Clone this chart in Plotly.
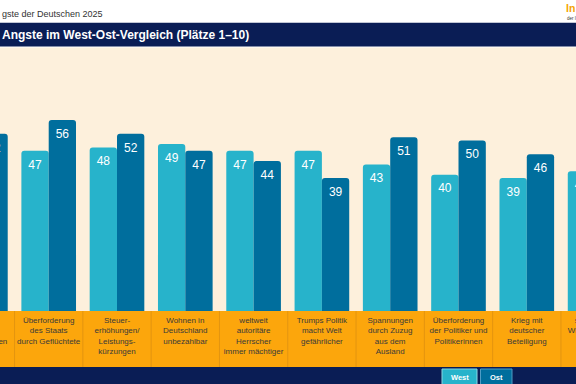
import plotly.graph_objects as go

W, H = 576, 384

# ---------------- data ----------------
ranks = [1, 2, 3, 4, 5, 6, 7, 8, 9, 10]
labels = [
    "steigende<br>Lebens-<br>haltungskosten",
    "Überforderung<br>des Staats<br>durch Geflüchtete",
    "Steuer-<br>erhöhungen/<br>Leistungs-<br>kürzungen",
    "Wohnen in<br>Deutschland<br>unbezahlbar",
    "weltweit<br>autoritäre<br>Herrscher<br>immer mächtiger",
    "Trumps Politik<br>macht Welt<br>gefährlicher",
    "Spannungen<br>durch Zuzug<br>aus dem<br>Ausland",
    "Überforderung<br>der Politiker und<br>Politikerinnen",
    "Krieg mit<br>deutscher<br>Beteiligung",
    "schlechtere<br>Wirtschaftslage",
]
west = [52, 47, 48, 49, 47, 47, 43, 40, 39, 41]
ost = [52, 56, 52, 47, 44, 39, 51, 50, 46, 45]

# ---------------- style ----------------
C_WEST = "#27B3CB"
C_OST = "#006E9D"
C_CREAM = "#FDF0DC"
C_ORANGE = "#FCA60C"
C_SEP = "#E39410"
C_NAVY = "#0A1D55"
FONT = "Liberation Sans, Arial, sans-serif"
BAR_W = 0.4


def py(px):
    return 1 - px / H


def pxx(px):
    return px / W


fig = go.Figure()

fig.add_trace(go.Bar(x=ranks, y=west, width=BAR_W, offset=-BAR_W,
                     marker=dict(color=C_WEST, line=dict(width=0)),
                     name="West", hoverinfo="skip"))
fig.add_trace(go.Bar(x=ranks, y=ost, width=BAR_W, offset=0,
                     marker=dict(color=C_OST, line=dict(width=0)),
                     name="Ost", hoverinfo="skip"))

# value labels inside the bar tops
for vals, sign in ((west, -1), (ost, 1)):
    fig.add_trace(go.Scatter(
        x=[r + sign * BAR_W / 2 for r in ranks], y=vals,
        mode="markers+text", text=[str(v) for v in vals],
        textposition="bottom center",
        textfont=dict(family=FONT, size=12, color="white"),
        marker=dict(size=12.5, opacity=0),
        hoverinfo="skip", showlegend=False, cliponaxis=True))

# category labels in the orange band (clipped at the window edges)
fig.add_trace(go.Scatter(
    x=ranks, y=[1] * len(ranks), yaxis="y2",
    mode="text", text=labels, textposition="bottom center",
    textfont=dict(family=FONT, size=8, color="#3a3a3a"),
    hoverinfo="skip", showlegend=False, cliponaxis=True))

shapes = [
    dict(type="rect", xref="paper", yref="paper", x0=0, x1=1, y0=py(311), y1=py(47.5),
         fillcolor=C_CREAM, line=dict(width=0), layer="below"),
    dict(type="rect", xref="paper", yref="paper", x0=0, x1=1, y0=py(46.5), y1=py(22.7),
         fillcolor=C_NAVY, line=dict(width=0), layer="below"),
    dict(type="rect", xref="paper", yref="paper", x0=0, x1=1, y0=py(367), y1=py(311),
         fillcolor=C_ORANGE, line=dict(width=0), layer="below"),
    dict(type="rect", xref="paper", yref="paper", x0=0, x1=1, y0=0, y1=py(367),
         fillcolor=C_NAVY, line=dict(width=0), layer="below"),
    dict(type="rect", xref="paper", yref="paper", x0=pxx(442), x1=pxx(477), y0=-0.01, y1=py(369),
         fillcolor=C_WEST, line=dict(color="#8AD6E4", width=1), layer="below"),
    dict(type="rect", xref="paper", yref="paper", x0=pxx(480.5), x1=pxx(512), y0=-0.01, y1=py(369),
         fillcolor=C_OST, line=dict(color="#4F9CC4", width=1), layer="below"),
]
for r in ranks[:-1]:
    shapes.append(dict(type="line", xref="x", yref="paper", x0=r + 0.5, x1=r + 0.5,
                       y0=py(367), y1=py(311), line=dict(color=C_SEP, width=1), layer="below"))

annotations = [
    dict(text="gste der Deutschen 2025", xref="paper", yref="paper", x=0, y=py(14),
         xanchor="left", yanchor="middle", showarrow=False,
         font=dict(family=FONT, size=9, color="#333333")),
    dict(text="<b>Angste im West-Ost-Vergleich (Plätze 1–10)</b>", xref="paper", yref="paper",
         x=0, y=py(34.5), xanchor="left", yanchor="middle", showarrow=False,
         font=dict(family=FONT, size=12, color="white")),
    dict(text="<b>In</b>", xref="paper", yref="paper", x=pxx(564), y=py(7.5),
         xanchor="left", yanchor="middle", showarrow=False,
         font=dict(family=FONT, size=10.5, color="#F5A300")),
    dict(text="der I", xref="paper", yref="paper", x=pxx(564.5), y=py(18.5),
         xanchor="left", yanchor="middle", showarrow=False,
         font=dict(family=FONT, size=4.5, color="#333333")),
    dict(text="<b>West</b>", xref="paper", yref="paper", x=pxx(459.5), y=py(377),
         xanchor="center", yanchor="middle", showarrow=False,
         font=dict(family=FONT, size=7.5, color="white")),
    dict(text="<b>Ost</b>", xref="paper", yref="paper", x=pxx(496.3), y=py(377),
         xanchor="center", yanchor="middle", showarrow=False,
         font=dict(family=FONT, size=7.5, color="white")),
]

pitch = 68.3
x0 = 2 - 48.7 / pitch
x1 = 2 + (W - 48.7) / pitch

fig.update_layout(
    width=W, height=H,
    margin=dict(l=0, r=0, t=0, b=0),
    paper_bgcolor="white",
    plot_bgcolor="rgba(0,0,0,0)",
    barmode="overlay",
    barcornerradius=3,
    showlegend=False,
    xaxis=dict(range=[x0, x1], domain=[0, 1], visible=False, fixedrange=True),
    yaxis=dict(range=[0, 77.3], domain=[py(311), py(47.5)], visible=False, fixedrange=True),
    yaxis2=dict(range=[0, 1.08], domain=[py(367), py(313)], anchor="x", visible=False, fixedrange=True),
    shapes=shapes,
    annotations=annotations,
)

fig.write_html(
    "out.html",
    config={"displayModeBar": False},
    post_script="document.body.style.margin='0';document.body.style.overflow='hidden';",
)
